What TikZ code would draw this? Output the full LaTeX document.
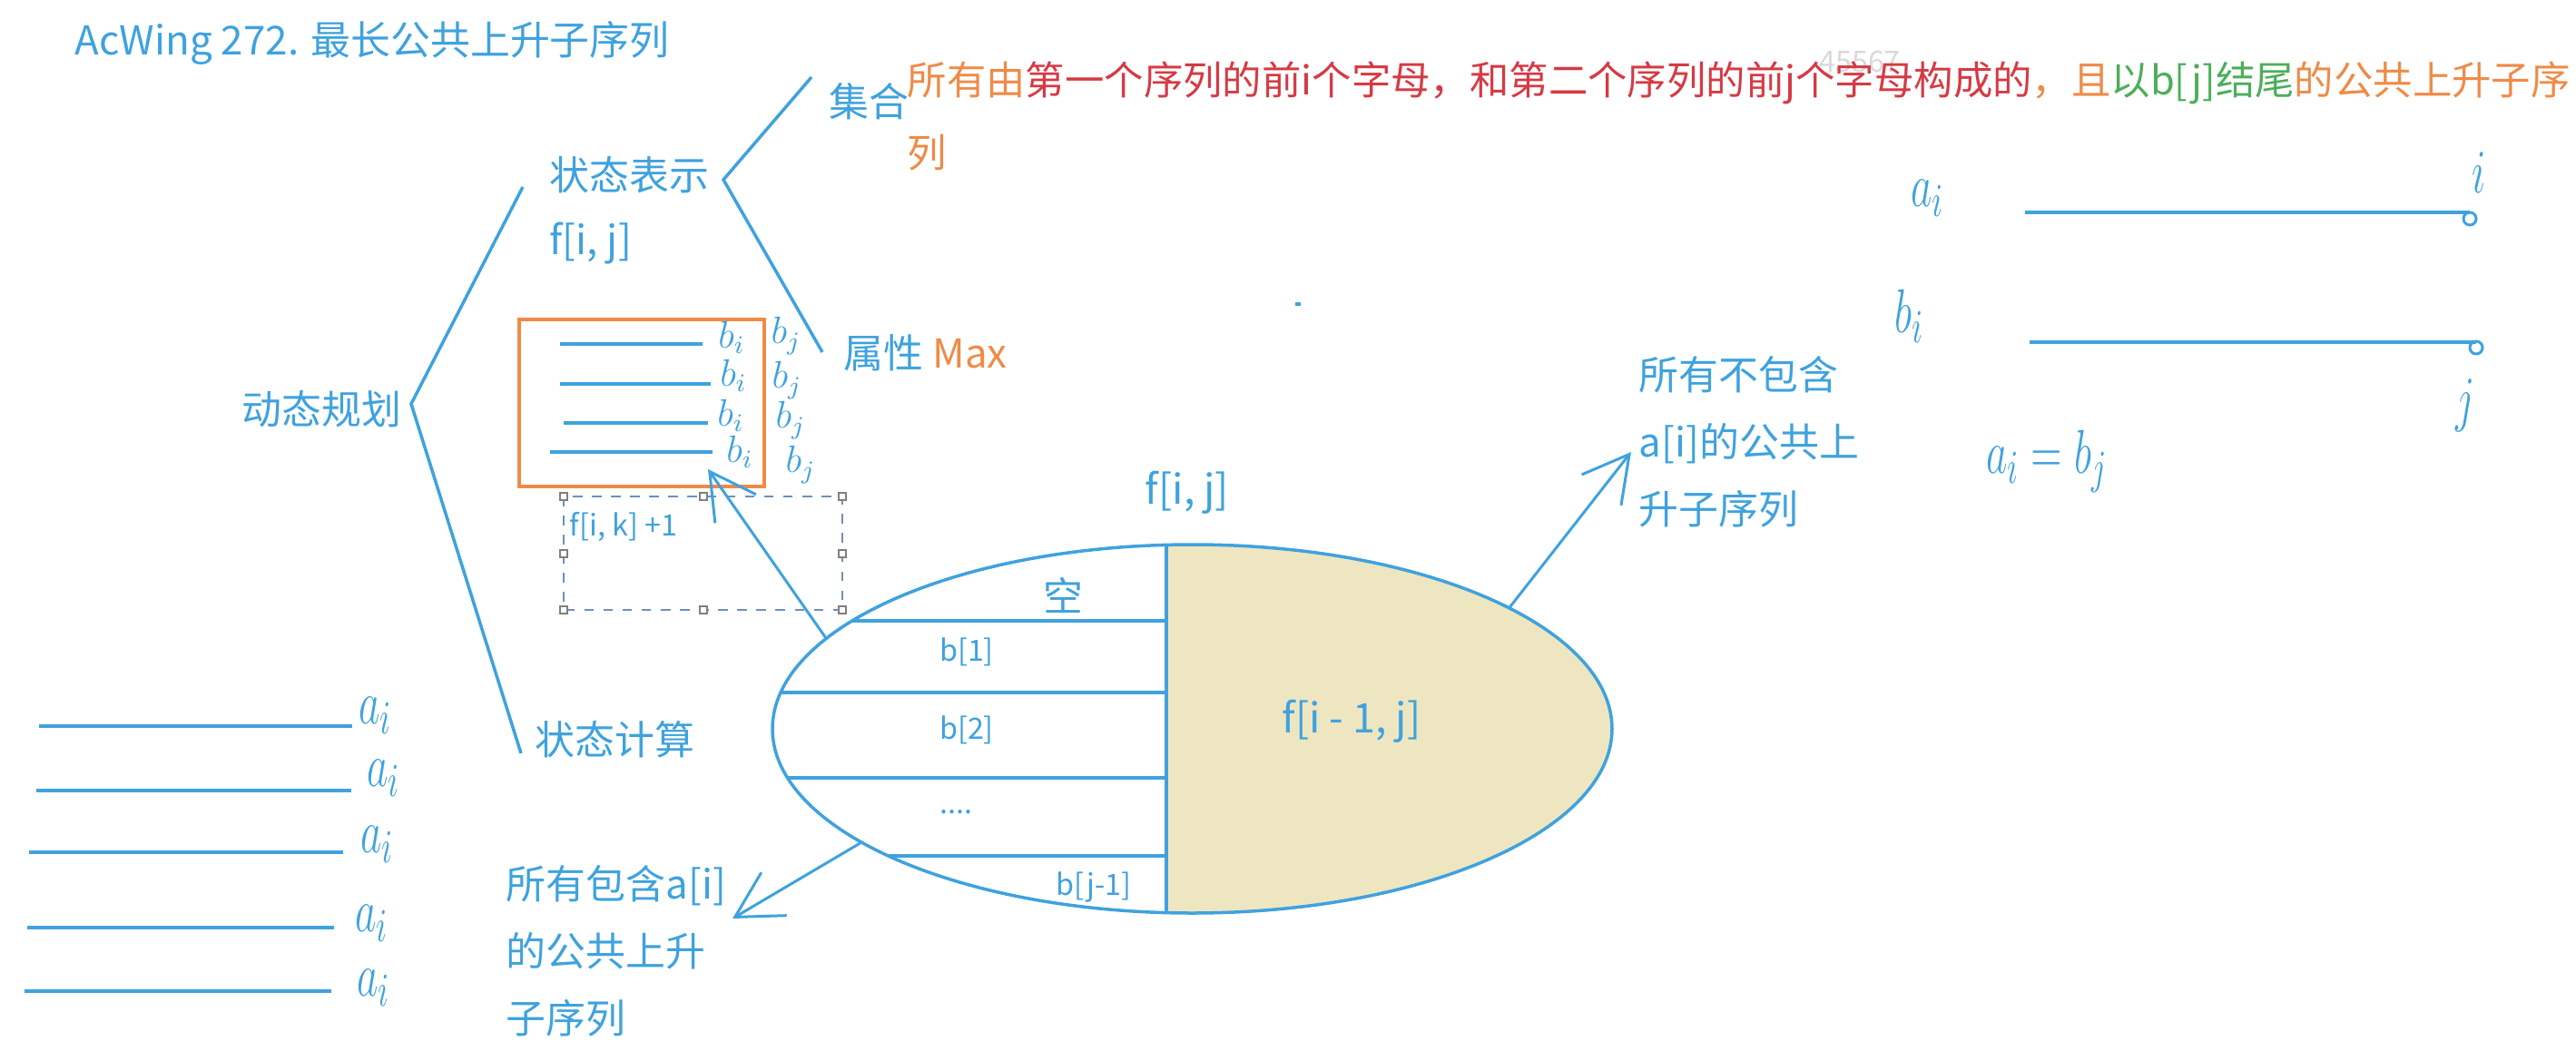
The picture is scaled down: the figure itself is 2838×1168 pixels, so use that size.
\documentclass[tikz,border=0pt]{standalone}
\usepackage{fontspec}
\setmainfont{Noto Sans CJK SC}
\usetikzlibrary{arrows.meta,positioning,shapes.geometric}

\definecolor{ink}{HTML}{3FA2DE}
\definecolor{hl}{HTML}{EE8B47}
\definecolor{rd}{HTML}{D63A44}
\definecolor{gr}{HTML}{4EAE5B}
\definecolor{sand}{HTML}{EEE6C1}
\definecolor{grip}{HTML}{7F7F7F}
\definecolor{selbox}{HTML}{6F90B8}

\newcommand{\fmain}{\fontsize{12.5pt}{15pt}\selectfont}
\newcommand{\fbig}{\fontsize{12.8pt}{15pt}\selectfont}
\newcommand{\fdesc}{\fontsize{12.35pt}{15pt}\selectfont}
\newcommand{\fsmall}{\fontsize{9.2pt}{11pt}\selectfont}
\newcommand{\fhand}{\fontsize{15pt}{18pt}\selectfont}
\newcommand{\hw}[1]{\scalebox{0.9}[1.35]{$#1$}}

\tikzset{
  lbl/.style={ink,inner sep=0pt,font=\fmain},
  sml/.style={ink,inner sep=0pt,font=\fsmall},
  hand/.style={ink,inner sep=0pt,font=\fhand},
  pen/.style={ink,line width=0.35mm},
  harrow/.style={ink,line width=0.3mm,-{Straight Barb[length=5mm,width=5.5mm]}},
}

\begin{document}
\begin{tikzpicture}[x=0.1mm,y=-0.1mm]
\useasboundingbox (0,0) rectangle (2838,1168);
\clip (0,0) rectangle (2838,1168);

\node[lbl,anchor=west] (title) at (82,47) {AcWing 272. 最长公共上升子序列};

% mind map
\node[lbl,anchor=west] (dp) at (266,451) {动态规划};
\node[lbl,anchor=west] (rep) at (605,193) {状态表示};
\node[lbl,anchor=west] (fij) at (605,268) {f[i, j]};
\node[lbl,anchor=west] (calc) at (589,815) {状态计算};
\node[lbl,anchor=west] (set) at (913,112) {集合};
\node[lbl,anchor=west] (attr) at (929,389) {属性 \textcolor{hl}{Max}};

\coordinate (dpv) at (453,445);
\coordinate (dpup) at (576,206);
\coordinate (dpdn) at (574,830);
\draw[pen] (dpup) -- (dpv) -- (dpdn);
\coordinate (repv) at (797,198);
\coordinate (repup) at (894,85);
\coordinate (repdn) at (906,388);
\draw[pen] (repup) -- (repv) -- (repdn);

\node[gray!30,font=\fsmall,inner sep=0pt] (stamp) at (2049,68) {45567};
\node[font=\fdesc,anchor=west,inner sep=0pt] (desc) at (999,91)
  {\color{hl}所有由\color{rd}第一个序列的前i个字母，和第二个序列的前j个字母构成的\color{hl}，且\color{gr}以b[j]结尾\color{hl}的公共上升子序};
\node[font=\fdesc,anchor=west,inner sep=0pt,hl] (desc2) at (999,168) {列};

% orange box
\draw[hl,line width=0.33mm] (572,352) rectangle (842,536);
\foreach \xa/\xb/\y in {617/774/379, 617/783/423, 621/780/466, 606/785/498}
  \draw[pen,line width=0.4mm] (\xa,\y) -- (\xb,\y);
\foreach \n/\x/\y/\xx/\yy in {1/806/372/866/370, 2/808/414/867/419, 3/805/458/871/463, 4/815/498/882/512} {
  \node[hand,font=\fontsize{12pt}{14pt}\selectfont] (bi\n) at (\x,\y) {$b_i$};
  \node[hand,font=\fontsize{12pt}{14pt}\selectfont] (bj\n) at (\xx,\yy) {$b_j$};
}

% selection frame
\draw[selbox,dashed,line width=0.12mm] (621,547) rectangle (928,672);
\foreach \p in {(621,547),(775,547),(928,547),(621,610),(928,610),(621,672),(775,672),(928,672)}
  \draw[grip,fill=white,line width=0.12mm] \p +(-4,-4) rectangle +(4,4);
\node[sml,anchor=west] (fik) at (627,580) {f[i, k] +1};

% set f[i,j]
\begin{scope}
\clip (1313.5,803) ellipse [x radius=462.5, y radius=203];
\fill[sand] (1285,590) rectangle (1790,1010);
\foreach \y in {684,763,857,943}
  \draw[pen] (840,\y) -- (1285,\y);
\draw[pen] (1285,590) -- (1285,1010);
\end{scope}
\node[draw=ink,line width=0.35mm,ellipse,minimum width=92.5mm,minimum height=40.6mm,inner sep=0pt] (ell) at (1313.5,803) {};

\node[lbl] (empty) at (1171,656) {空};
\node[sml] (b1) at (1065,718) {b[1]};
\node[sml] (b2) at (1065,804) {b[2]};
\node[sml] (bdots) at (1053,895) {....};
\node[sml] (bjm) at (1205,978) {b[j-1]};
\node[ink,font=\fbig,inner sep=0pt] (fprev) at (1489,795) {f[i - 1, j]};
\node[ink,font=\fbig,inner sep=0pt] (ftop) at (1308,543) {f[i, j]};

\node[ink,font=\fontsize{12.5pt}{21pt}\selectfont,inner sep=0pt,anchor=west,align=left] (without) at (1805,487)
  {所有不包含\\a[i]的公共上\\升子序列};
\node[ink,font=\fontsize{12.5pt}{21pt}\selectfont,inner sep=0pt,anchor=west,align=left] (with) at (557,1048)
  {所有包含a[i]\\的公共上升\\子序列};

\coordinate (boxtip) at (780,517);
\coordinate (outtip) at (1797,498);
\coordinate (intip) at (807,1012);
\draw[harrow] (ell.166.7) -- (boxtip);
\draw[harrow] (ell.21.2) -- (outtip);
\draw[harrow] (ell.199.1) -- (intip);

\fill[ink] (1427,333) rectangle (1433,337);

% a and b sequences
\node[hand] (alab) at (2124,218) {\hw{a_i}};
\coordinate (aS) at (2231,234);
\coordinate (aE) at (2721,234);
\draw[pen] (aS) -- (aE);
\draw[pen,line width=0.3mm] (2721,241) circle (7);
\node[hand] (ilab) at (2731,190) {\hw{i}};
\node[hand] (blab) at (2104,348) {\hw{b_i}};
\coordinate (bS) at (2236,377);
\coordinate (bE) at (2728,377);
\draw[pen] (bS) -- (bE);
\draw[pen,line width=0.3mm] (2728,383) circle (7);
\node[hand] (jlab) at (2716,447) {\hw{j}};
\node[hand] (eq) at (2255,508) {\hw{a_i = b_j}};

\foreach \xa/\xb/\y/\lx/\ly in {43/388/800/414/788, 40/387/871/423/857, 32/378/939/416/930, 30/368/1022/410/1017, 27/365/1092/412/1088} {
  \draw[pen] (\xa,\y) -- (\xb,\y);
  \node[hand] (seq\y) at (\lx,\ly) {\hw{a_i}};
}
\end{tikzpicture}
\end{document}
